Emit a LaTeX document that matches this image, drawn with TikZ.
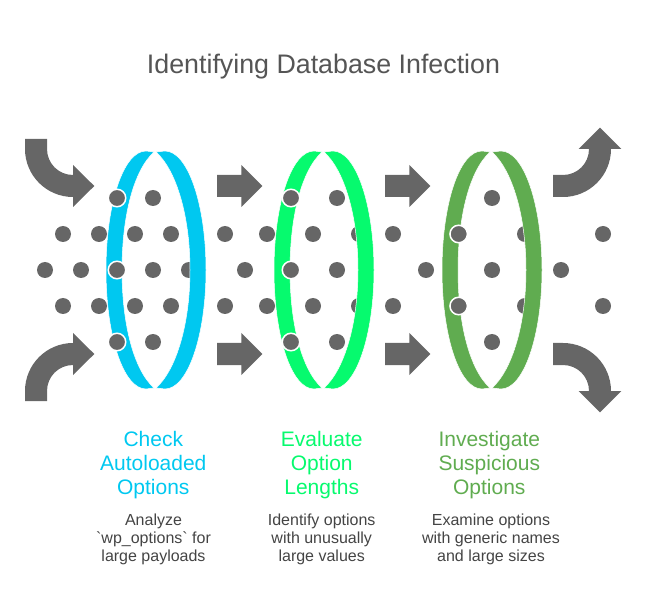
\documentclass[tikz,border=0pt]{standalone}
\usepackage{fontspec}
\setmainfont{Liberation Sans}
\newfontfamily\plainfont{Liberation Sans}
\definecolor{dotgray}{HTML}{666666}
\definecolor{titlegray}{HTML}{555555}
\definecolor{bodygray}{HTML}{444444}
\definecolor{ringblue}{HTML}{00C8F0}
\definecolor{ringgreen}{HTML}{06FA6E}
\definecolor{ringleaf}{HTML}{60AC50}
\tikzset{
  dot/.style={circle, fill=dotgray, inner sep=0pt, outer sep=0pt, minimum size=16pt},
  dotfront/.style={dot, draw=white, line width=1.5pt, minimum size=17.5pt},
  blockarrow/.style={fill=dotgray},
  ringpart/.style={draw=white, line width=0.5pt},
  heading/.style={inner sep=0pt, align=center, anchor=north, font=\fontsize{21}{24}\selectfont},
  bodytext/.style={inner sep=0pt, align=center, anchor=north, text=bodygray, font=\plainfont\fontsize{16}{18}\selectfont}
}
% Two crescents of one ring
\newcommand{\ringshape}[2]{
  \begin{scope}[xshift=#1pt]
    \fill[ringpart, fill=#2] (-2,152) -- (-10,151) .. controls (-33,151) and (-50,205) .. (-50,270) .. controls (-50,335) and (-33,389) .. (-10,389) -- (-2,388) .. controls (-22,370) and (-34,325) .. (-34,270) .. controls (-34,215) and (-22,170) .. (-2,152) -- cycle;
    \fill[ringpart, fill=#2] (0,152) -- (9,151) .. controls (32,151) and (50,205) .. (50,270) .. controls (50,335) and (32,389) .. (9,389) -- (0,388) .. controls (20,370) and (34,325) .. (34,270) .. controls (34,215) and (20,170) .. (0,152) -- cycle;
  \end{scope}
}
\begin{document}
\begin{tikzpicture}[x=1pt, y=-1pt]
    \useasboundingbox (0,0) rectangle (648,612);

    % Title
    \node[inner sep=0pt, anchor=base, text=titlegray, font=\fontsize{26.8}{32}\selectfont] (title) at (323.5,74) {Identifying Database Infection};

    % Dots behind the rings
    \foreach \px/\py in {153/198, 63/234, 99/234, 135/234, 171/234, 45/270, 81/270, 153/270, 189/270, 63/306, 99/306, 135/306, 171/306, 153/342,
                         337/198, 225/234, 267/234, 313/234, 359/234, 245/270, 337/270, 225/306, 267/306, 313/306, 359/306, 337/342,
                         492/198, 393/234, 525/234, 426/270, 492/270, 393/306, 525/306, 492/342,
                         603/234, 561/270, 603/306}
        \node[dot] (dot-\px-\py) at (\px,\py) {};

    % Rings
    \ringshape{156}{ringblue}
    \ringshape{324}{ringgreen}
    \ringshape{492}{ringleaf}

    % Dots in front of the rings
    \foreach \px/\py in {117/198, 117/270, 117/342, 291/198, 291/270, 291/342, 458.7/234, 458.7/306}
        \node[dotfront] (front-\px-\py) at (\px,\py) {};

    % Curved arrows on the left
    \fill[blockarrow] (25,139) -- (47,139) -- (47,149) .. controls (47,163.4) and (58.6,175) .. (73,175) -- (73,165) -- (94.3,186) -- (73,207) -- (73,197) .. controls (46.5,197) and (25,175.5) .. (25,149) -- cycle;
    \fill[blockarrow] (25,401) -- (47,401) -- (47,391) .. controls (47,376.6) and (58.6,365) .. (73,365) -- (73,375) -- (94.3,354) -- (73,333) -- (73,343) .. controls (46.5,343) and (25,364.5) .. (25,391) -- cycle;

    % Straight arrows
    \foreach \ax in {217,385}
        \foreach \ay in {186,354}
            \fill[blockarrow] (\ax,\ay-11) -- (\ax+24.3,\ay-11) -- (\ax+24.3,\ay-21) -- (\ax+45.3,\ay) -- (\ax+24.3,\ay+21) -- (\ax+24.3,\ay+11) -- (\ax,\ay+11) -- cycle;

    % Curved arrows on the right
    \fill[blockarrow] (553,197) -- (553,175) -- (563,175) .. controls (577.4,175) and (589,163.4) .. (589,149) -- (578.7,149) -- (600,127.7) -- (621.3,149) -- (611,149) .. controls (611,175.5) and (589.5,197) .. (563,197) -- cycle;
    \fill[blockarrow] (553,343) -- (553,365) -- (563,365) .. controls (577.4,365) and (589,376.6) .. (589,391) -- (578.7,391) -- (600,412.3) -- (621.3,391) -- (611,391) .. controls (611,364.5) and (589.5,343) .. (563,343) -- cycle;

    % Headings
    \node[heading, text=ringblue] (check) at (153.3,431) {Check\\Autoloaded\\Options};
    \node[heading, text=ringgreen] (evaluate) at (321.7,431) {Evaluate\\Option\\Lengths};
    \node[heading, text=ringleaf] (investigate) at (489.3,431) {Investigate\\Suspicious\\Options};

    % Descriptions
    \node[bodytext] (analyze) at (153.5,514) {Analyze\\`wp\_options` for\\large payloads};
    \node[bodytext] (identify) at (321.7,514) {Identify options\\with unusually\\large values};
    \node[bodytext] (examine) at (491,514) {Examine options\\with generic names\\and large sizes};
\end{tikzpicture}
\end{document}
